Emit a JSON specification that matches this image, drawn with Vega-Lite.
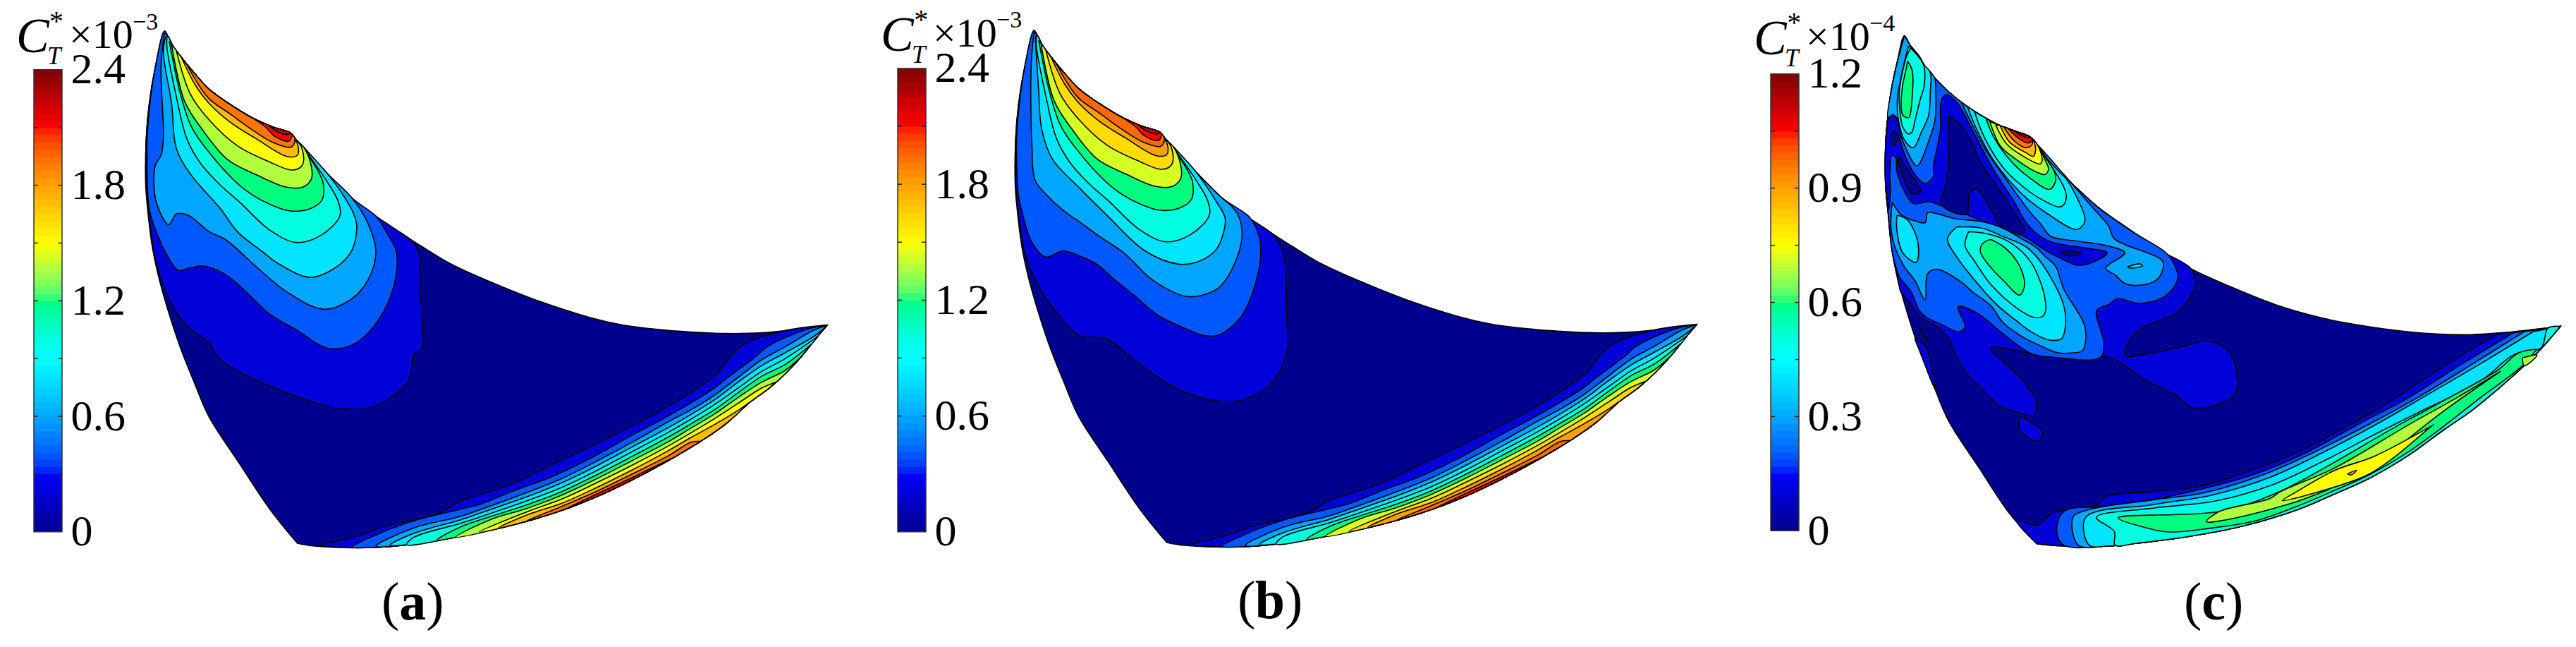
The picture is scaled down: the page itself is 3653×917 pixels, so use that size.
{"$schema":"https://vega.github.io/schema/vega-lite/v6.json","padding":0,"background":"white","spacing":0,"bounds":"flush","config":{"view":{"stroke":null},"text":{"font":"Liberation Serif","align":"left","baseline":"alphabetic","color":"black"}},"resolve":{"scale":{"fill":"independent","x":"independent","y":"independent"}},
"datasets":{
"levelsA":[{"id":"B","level":0},{"id":"L1","level":0.2},{"id":"L2","level":0.4},{"id":"L3","level":0.6},{"id":"L4","level":0.8},{"id":"L5","level":1.0},{"id":"L6","level":1.2},{"id":"L7","level":1.37},{"id":"L8","level":1.5},{"id":"L9","level":1.72},{"id":"L10","level":1.92},{"id":"L11","level":2.1},{"id":"L12","level":2.28},{"id":"T1","level":0.2},{"id":"T2","level":0.4},{"id":"T3","level":0.6},{"id":"T4","level":0.8},{"id":"T5","level":1.0},{"id":"T6","level":1.2},{"id":"T7","level":1.37},{"id":"T8","level":1.5},{"id":"T9","level":1.72},{"id":"T10","level":1.92},{"id":"T11","level":2.1}],
"levelsB":[{"id":"B","level":0},{"id":"L1","level":0.2},{"id":"L2","level":0.4},{"id":"L3","level":0.6},{"id":"L4","level":0.8},{"id":"L5","level":1.0},{"id":"L6","level":1.2},{"id":"L7","level":1.43},{"id":"L8","level":1.62},{"id":"L9","level":1.8},{"id":"L10","level":1.95},{"id":"L11","level":2.1},{"id":"L12","level":2.28},{"id":"T1","level":0.2},{"id":"T2","level":0.4},{"id":"T3","level":0.6},{"id":"T4","level":0.8},{"id":"T5","level":1.0},{"id":"T6","level":1.2},{"id":"T7","level":1.43},{"id":"T8","level":1.62},{"id":"T9","level":1.8},{"id":"T10","level":1.95},{"id":"T11","level":2.1}],
"levelsC":[{"id":"B","level":0},{"id":"A1","level":0.1},{"id":"S1","level":0.1},{"id":"S2","level":0.1},{"id":"S3","level":0.1},{"id":"A2","level":0.2},{"id":"H2","level":0.1},{"id":"D","level":0},{"id":"N1","level":0},{"id":"N2","level":0},{"id":"N3","level":0},{"id":"P3","level":0.3},{"id":"C3","level":0.3},{"id":"R3","level":0.3},{"id":"P4","level":0.4},{"id":"Q4","level":0.4},{"id":"I4","level":0.4},{"id":"C4","level":0.4},{"id":"Z4","level":0.4},{"id":"P5","level":0.5},{"id":"Q5","level":0.5},{"id":"C5","level":0.5},{"id":"P6","level":0.6},{"id":"Q6","level":0.6},{"id":"C6","level":0.6},{"id":"Q7","level":0.685},{"id":"Q8","level":0.75},{"id":"Q9","level":0.86},{"id":"Q10","level":0.96},{"id":"Q11","level":1.05},{"id":"Q12","level":1.14},{"id":"T1","level":0.1},{"id":"T2","level":0.2},{"id":"T3","level":0.3},{"id":"T4","level":0.4},{"id":"T5","level":0.5},{"id":"T6","level":0.6},{"id":"T7","level":0.685},{"id":"T7b","level":0.685},{"id":"T8","level":0.75},{"id":"T9","level":0.86}],
"outline":[{"id":"B","x":100,"y":42},{"id":"B","x":115,"y":65},{"id":"B","x":135,"y":105},{"id":"B","x":180,"y":165},{"id":"B","x":230,"y":225},{"id":"B","x":290,"y":290},{"id":"B","x":365,"y":345},{"id":"B","x":480,"y":415},{"id":"B","x":560,"y":450},{"id":"B","x":635,"y":475},{"id":"B","x":660,"y":505},{"id":"B","x":690,"y":535},{"id":"B","x":790,"y":645},{"id":"B","x":900,"y":755},{"id":"B","x":1000,"y":830},{"id":"B","x":1105,"y":900},{"id":"B","x":1198,"y":960},{"id":"B","x":1318,"y":1032},{"id":"B","x":1478,"y":1105},{"id":"B","x":1678,"y":1185},{"id":"B","x":1910,"y":1260},{"id":"B","x":2040,"y":1290},{"id":"B","x":2190,"y":1310},{"id":"B","x":2340,"y":1322},{"id":"B","x":2490,"y":1328},{"id":"B","x":2640,"y":1325},{"id":"B","x":2790,"y":1310},{"id":"B","x":2920,"y":1292},{"id":"B","x":2920,"y":1292},{"id":"B","x":2870,"y":1350},{"id":"B","x":2810,"y":1425},{"id":"B","x":2740,"y":1500},{"id":"B","x":2670,"y":1562},{"id":"B","x":2590,"y":1620},{"id":"B","x":2490,"y":1710},{"id":"B","x":2390,"y":1780},{"id":"B","x":2240,"y":1870},{"id":"B","x":2090,"y":1950},{"id":"B","x":1960,"y":2012},{"id":"B","x":1790,"y":2080},{"id":"B","x":1590,"y":2140},{"id":"B","x":1360,"y":2190},{"id":"B","x":1160,"y":2223},{"id":"B","x":980,"y":2238},{"id":"B","x":740,"y":2232},{"id":"B","x":665,"y":2220},{"id":"B","x":665,"y":2220},{"id":"B","x":548,"y":2075},{"id":"B","x":418,"y":1880},{"id":"B","x":288,"y":1680},{"id":"B","x":228,"y":1540},{"id":"B","x":168,"y":1390},{"id":"B","x":118,"y":1240},{"id":"B","x":78,"y":1100},{"id":"B","x":48,"y":960},{"id":"B","x":30,"y":820},{"id":"B","x":20,"y":700},{"id":"B","x":22,"y":500},{"id":"B","x":35,"y":350},{"id":"B","x":60,"y":200},{"id":"B","x":100,"y":42}],
"lowA":[{"id":"L1","x":22,"y":700},{"id":"L1","x":40,"y":880},{"id":"L1","x":66,"y":1033},{"id":"L1","x":124,"y":1190},{"id":"L1","x":194,"y":1296},{"id":"L1","x":287,"y":1366},{"id":"L1","x":334,"y":1436},{"id":"L1","x":427,"y":1497},{"id":"L1","x":567,"y":1559},{"id":"L1","x":684,"y":1603},{"id":"L1","x":824,"y":1643},{"id":"L1","x":964,"y":1646},{"id":"L1","x":1058,"y":1603},{"id":"L1","x":1140,"y":1524},{"id":"L1","x":1163,"y":1410},{"id":"L1","x":1193,"y":1401},{"id":"L1","x":1198,"y":1296},{"id":"L1","x":1186,"y":1120},{"id":"L1","x":1186,"y":1006},{"id":"L1","x":1163,"y":945},{"id":"L1","x":1105,"y":900},{"id":"L1","x":1000,"y":830},{"id":"L1","x":900,"y":755},{"id":"L1","x":790,"y":645},{"id":"L1","x":690,"y":535},{"id":"L1","x":660,"y":505},{"id":"L1","x":635,"y":475},{"id":"L1","x":560,"y":450},{"id":"L1","x":480,"y":415},{"id":"L1","x":365,"y":345},{"id":"L1","x":290,"y":290},{"id":"L1","x":230,"y":225},{"id":"L1","x":180,"y":165},{"id":"L1","x":135,"y":105},{"id":"L1","x":115,"y":65},{"id":"L1","x":100,"y":42},{"id":"L1","x":60,"y":200},{"id":"L1","x":35,"y":350},{"id":"L1","x":22,"y":500},{"id":"L1","x":22,"y":700},
{"id":"L2","x":26,"y":600},{"id":"L2","x":35,"y":800},{"id":"L2","x":65,"y":895},{"id":"L2","x":105,"y":985},{"id":"L2","x":159,"y":1059},{"id":"L2","x":206,"y":1050},{"id":"L2","x":264,"y":1041},{"id":"L2","x":357,"y":1076},{"id":"L2","x":451,"y":1155},{"id":"L2","x":544,"y":1243},{"id":"L2","x":661,"y":1313},{"id":"L2","x":801,"y":1392},{"id":"L2","x":918,"y":1366},{"id":"L2","x":1011,"y":1269},{"id":"L2","x":1077,"y":1120},{"id":"L2","x":1086,"y":980},{"id":"L2","x":1045,"y":900},{"id":"L2","x":1000,"y":830},{"id":"L2","x":900,"y":755},{"id":"L2","x":790,"y":645},{"id":"L2","x":690,"y":535},{"id":"L2","x":660,"y":505},{"id":"L2","x":635,"y":475},{"id":"L2","x":560,"y":450},{"id":"L2","x":480,"y":415},{"id":"L2","x":365,"y":345},{"id":"L2","x":290,"y":290},{"id":"L2","x":230,"y":225},{"id":"L2","x":180,"y":165},{"id":"L2","x":135,"y":105},{"id":"L2","x":115,"y":65},{"id":"L2","x":100,"y":42},{"id":"L2","x":60,"y":200},{"id":"L2","x":38,"y":350},{"id":"L2","x":26,"y":500},{"id":"L2","x":26,"y":600},
{"id":"L3","x":100,"y":50},{"id":"L3","x":85,"y":190},{"id":"L3","x":95,"y":500},{"id":"L3","x":85,"y":570},{"id":"L3","x":60,"y":615},{"id":"L3","x":65,"y":770},{"id":"L3","x":118,"y":865},{"id":"L3","x":150,"y":820},{"id":"L3","x":200,"y":825},{"id":"L3","x":290,"y":895},{"id":"L3","x":357,"y":927},{"id":"L3","x":497,"y":1050},{"id":"L3","x":614,"y":1147},{"id":"L3","x":778,"y":1225},{"id":"L3","x":894,"y":1182},{"id":"L3","x":964,"y":1103},{"id":"L3","x":999,"y":980},{"id":"L3","x":964,"y":857},{"id":"L3","x":900,"y":755},{"id":"L3","x":790,"y":645},{"id":"L3","x":690,"y":535},{"id":"L3","x":660,"y":505},{"id":"L3","x":635,"y":475},{"id":"L3","x":560,"y":450},{"id":"L3","x":480,"y":415},{"id":"L3","x":365,"y":345},{"id":"L3","x":290,"y":290},{"id":"L3","x":230,"y":225},{"id":"L3","x":180,"y":165},{"id":"L3","x":135,"y":105},{"id":"L3","x":115,"y":65},{"id":"L3","x":100,"y":50},
{"id":"L4","x":105,"y":65},{"id":"L4","x":95,"y":130},{"id":"L4","x":130,"y":350},{"id":"L4","x":150,"y":540},{"id":"L4","x":210,"y":650},{"id":"L4","x":340,"y":800},{"id":"L4","x":410,"y":895},{"id":"L4","x":510,"y":975},{"id":"L4","x":591,"y":1035},{"id":"L4","x":719,"y":1089},{"id":"L4","x":824,"y":1050},{"id":"L4","x":894,"y":980},{"id":"L4","x":918,"y":875},{"id":"L4","x":905,"y":820},{"id":"L4","x":840,"y":710},{"id":"L4","x":790,"y":645},{"id":"L4","x":690,"y":535},{"id":"L4","x":660,"y":505},{"id":"L4","x":635,"y":475},{"id":"L4","x":560,"y":450},{"id":"L4","x":480,"y":415},{"id":"L4","x":365,"y":345},{"id":"L4","x":290,"y":290},{"id":"L4","x":230,"y":225},{"id":"L4","x":180,"y":165},{"id":"L4","x":135,"y":105},{"id":"L4","x":115,"y":65},{"id":"L4","x":105,"y":65}],
"lowB":[{"id":"L1","x":22,"y":700},{"id":"L1","x":44,"y":897},{"id":"L1","x":68,"y":1013},{"id":"L1","x":133,"y":1155},{"id":"L1","x":206,"y":1254},{"id":"L1","x":294,"y":1340},{"id":"L1","x":411,"y":1354},{"id":"L1","x":511,"y":1431},{"id":"L1","x":659,"y":1539},{"id":"L1","x":773,"y":1592},{"id":"L1","x":876,"y":1617},{"id":"L1","x":978,"y":1615},{"id":"L1","x":1065,"y":1580},{"id":"L1","x":1130,"y":1517},{"id":"L1","x":1175,"y":1413},{"id":"L1","x":1175,"y":1264},{"id":"L1","x":1161,"y":989},{"id":"L1","x":1123,"y":919},{"id":"L1","x":1105,"y":900},{"id":"L1","x":1000,"y":830},{"id":"L1","x":900,"y":755},{"id":"L1","x":790,"y":645},{"id":"L1","x":690,"y":535},{"id":"L1","x":660,"y":505},{"id":"L1","x":635,"y":475},{"id":"L1","x":560,"y":450},{"id":"L1","x":480,"y":415},{"id":"L1","x":365,"y":345},{"id":"L1","x":290,"y":290},{"id":"L1","x":230,"y":225},{"id":"L1","x":180,"y":165},{"id":"L1","x":135,"y":105},{"id":"L1","x":115,"y":65},{"id":"L1","x":100,"y":42},{"id":"L1","x":60,"y":200},{"id":"L1","x":35,"y":350},{"id":"L1","x":22,"y":500},{"id":"L1","x":22,"y":700},
{"id":"L2","x":26,"y":600},{"id":"L2","x":33,"y":738},{"id":"L2","x":47,"y":806},{"id":"L2","x":91,"y":943},{"id":"L2","x":150,"y":1006},{"id":"L2","x":222,"y":980},{"id":"L2","x":294,"y":1001},{"id":"L2","x":367,"y":1036},{"id":"L2","x":439,"y":1099},{"id":"L2","x":525,"y":1168},{"id":"L2","x":628,"y":1254},{"id":"L2","x":731,"y":1304},{"id":"L2","x":817,"y":1338},{"id":"L2","x":883,"y":1338},{"id":"L2","x":978,"y":1264},{"id":"L2","x":1028,"y":1162},{"id":"L2","x":1063,"y":1013},{"id":"L2","x":1058,"y":920},{"id":"L2","x":1020,"y":840},{"id":"L2","x":978,"y":806},{"id":"L2","x":900,"y":755},{"id":"L2","x":790,"y":645},{"id":"L2","x":690,"y":535},{"id":"L2","x":660,"y":505},{"id":"L2","x":635,"y":475},{"id":"L2","x":560,"y":450},{"id":"L2","x":480,"y":415},{"id":"L2","x":365,"y":345},{"id":"L2","x":290,"y":290},{"id":"L2","x":230,"y":225},{"id":"L2","x":180,"y":165},{"id":"L2","x":135,"y":105},{"id":"L2","x":115,"y":65},{"id":"L2","x":100,"y":42},{"id":"L2","x":60,"y":200},{"id":"L2","x":38,"y":350},{"id":"L2","x":26,"y":500},{"id":"L2","x":26,"y":600},
{"id":"L3","x":100,"y":50},{"id":"L3","x":88,"y":190},{"id":"L3","x":91,"y":531},{"id":"L3","x":105,"y":680},{"id":"L3","x":150,"y":738},{"id":"L3","x":222,"y":806},{"id":"L3","x":294,"y":857},{"id":"L3","x":381,"y":920},{"id":"L3","x":483,"y":989},{"id":"L3","x":584,"y":1087},{"id":"L3","x":659,"y":1138},{"id":"L3","x":745,"y":1173},{"id":"L3","x":817,"y":1168},{"id":"L3","x":890,"y":1133},{"id":"L3","x":962,"y":1013},{"id":"L3","x":985,"y":910},{"id":"L3","x":969,"y":829},{"id":"L3","x":934,"y":783},{"id":"L3","x":900,"y":755},{"id":"L3","x":790,"y":645},{"id":"L3","x":690,"y":535},{"id":"L3","x":660,"y":505},{"id":"L3","x":635,"y":475},{"id":"L3","x":560,"y":450},{"id":"L3","x":480,"y":415},{"id":"L3","x":365,"y":345},{"id":"L3","x":290,"y":290},{"id":"L3","x":230,"y":225},{"id":"L3","x":180,"y":165},{"id":"L3","x":135,"y":105},{"id":"L3","x":115,"y":65},{"id":"L3","x":100,"y":50},
{"id":"L4","x":105,"y":68},{"id":"L4","x":119,"y":287},{"id":"L4","x":133,"y":463},{"id":"L4","x":178,"y":589},{"id":"L4","x":294,"y":713},{"id":"L4","x":411,"y":829},{"id":"L4","x":570,"y":978},{"id":"L4","x":715,"y":1036},{"id":"L4","x":803,"y":1024},{"id":"L4","x":876,"y":973},{"id":"L4","x":904,"y":910},{"id":"L4","x":913,"y":840},{"id":"L4","x":876,"y":771},{"id":"L4","x":790,"y":645},{"id":"L4","x":690,"y":535},{"id":"L4","x":660,"y":505},{"id":"L4","x":635,"y":475},{"id":"L4","x":560,"y":450},{"id":"L4","x":480,"y":415},{"id":"L4","x":365,"y":345},{"id":"L4","x":290,"y":290},{"id":"L4","x":230,"y":225},{"id":"L4","x":180,"y":165},{"id":"L4","x":135,"y":105},{"id":"L4","x":115,"y":65},{"id":"L4","x":105,"y":68}],
"upper":[{"id":"L5","x":110,"y":70},{"id":"L5","x":110,"y":110},{"id":"L5","x":150,"y":320},{"id":"L5","x":195,"y":500},{"id":"L5","x":250,"y":600},{"id":"L5","x":330,"y":690},{"id":"L5","x":420,"y":770},{"id":"L5","x":550,"y":890},{"id":"L5","x":661,"y":941},{"id":"L5","x":766,"y":910},{"id":"L5","x":845,"y":830},{"id":"L5","x":840,"y":770},{"id":"L5","x":790,"y":680},{"id":"L5","x":700,"y":550},{"id":"L5","x":690,"y":535},{"id":"L5","x":660,"y":505},{"id":"L5","x":635,"y":475},{"id":"L5","x":560,"y":450},{"id":"L5","x":480,"y":415},{"id":"L5","x":365,"y":345},{"id":"L5","x":290,"y":290},{"id":"L5","x":230,"y":225},{"id":"L5","x":180,"y":165},{"id":"L5","x":135,"y":105},{"id":"L5","x":115,"y":65},{"id":"L5","x":110,"y":70},
{"id":"L6","x":120,"y":85},{"id":"L6","x":165,"y":300},{"id":"L6","x":210,"y":440},{"id":"L6","x":260,"y":520},{"id":"L6","x":440,"y":715},{"id":"L6","x":595,"y":797},{"id":"L6","x":660,"y":808},{"id":"L6","x":725,"y":795},{"id":"L6","x":770,"y":760},{"id":"L6","x":775,"y":690},{"id":"L6","x":755,"y":640},{"id":"L6","x":695,"y":545},{"id":"L6","x":690,"y":535},{"id":"L6","x":660,"y":505},{"id":"L6","x":635,"y":475},{"id":"L6","x":560,"y":450},{"id":"L6","x":480,"y":415},{"id":"L6","x":365,"y":345},{"id":"L6","x":290,"y":290},{"id":"L6","x":230,"y":225},{"id":"L6","x":180,"y":165},{"id":"L6","x":135,"y":105},{"id":"L6","x":120,"y":85},
{"id":"L7","x":130,"y":100},{"id":"L7","x":185,"y":340},{"id":"L7","x":260,"y":460},{"id":"L7","x":370,"y":590},{"id":"L7","x":495,"y":655},{"id":"L7","x":615,"y":705},{"id":"L7","x":690,"y":705},{"id":"L7","x":725,"y":670},{"id":"L7","x":725,"y":620},{"id":"L7","x":695,"y":540},{"id":"L7","x":660,"y":505},{"id":"L7","x":635,"y":475},{"id":"L7","x":560,"y":450},{"id":"L7","x":480,"y":415},{"id":"L7","x":365,"y":345},{"id":"L7","x":290,"y":290},{"id":"L7","x":230,"y":225},{"id":"L7","x":180,"y":165},{"id":"L7","x":135,"y":105},{"id":"L7","x":130,"y":100},
{"id":"L8","x":150,"y":125},{"id":"L8","x":210,"y":310},{"id":"L8","x":290,"y":420},{"id":"L8","x":410,"y":530},{"id":"L8","x":550,"y":600},{"id":"L8","x":640,"y":633},{"id":"L8","x":680,"y":620},{"id":"L8","x":692,"y":590},{"id":"L8","x":680,"y":530},{"id":"L8","x":660,"y":505},{"id":"L8","x":635,"y":475},{"id":"L8","x":560,"y":450},{"id":"L8","x":480,"y":415},{"id":"L8","x":365,"y":345},{"id":"L8","x":290,"y":290},{"id":"L8","x":230,"y":225},{"id":"L8","x":180,"y":165},{"id":"L8","x":150,"y":125},
{"id":"L9","x":170,"y":150},{"id":"L9","x":230,"y":270},{"id":"L9","x":290,"y":350},{"id":"L9","x":380,"y":430},{"id":"L9","x":490,"y":500},{"id":"L9","x":620,"y":575},{"id":"L9","x":665,"y":570},{"id":"L9","x":668,"y":530},{"id":"L9","x":650,"y":495},{"id":"L9","x":635,"y":475},{"id":"L9","x":560,"y":450},{"id":"L9","x":480,"y":415},{"id":"L9","x":365,"y":345},{"id":"L9","x":290,"y":290},{"id":"L9","x":230,"y":225},{"id":"L9","x":180,"y":165},{"id":"L9","x":170,"y":150},
{"id":"L10","x":195,"y":185},{"id":"L10","x":285,"y":325},{"id":"L10","x":380,"y":395},{"id":"L10","x":470,"y":460},{"id":"L10","x":560,"y":515},{"id":"L10","x":640,"y":535},{"id":"L10","x":655,"y":500},{"id":"L10","x":635,"y":475},{"id":"L10","x":560,"y":450},{"id":"L10","x":480,"y":415},{"id":"L10","x":365,"y":345},{"id":"L10","x":290,"y":290},{"id":"L10","x":230,"y":225},{"id":"L10","x":195,"y":185},
{"id":"L11","x":480,"y":415},{"id":"L11","x":530,"y":450},{"id":"L11","x":570,"y":490},{"id":"L11","x":630,"y":510},{"id":"L11","x":642,"y":482},{"id":"L11","x":635,"y":475},{"id":"L11","x":560,"y":450},{"id":"L11","x":480,"y":415},
{"id":"L12","x":545,"y":445},{"id":"L12","x":580,"y":470},{"id":"L12","x":625,"y":482},{"id":"L12","x":635,"y":475},{"id":"L12","x":560,"y":450},{"id":"L12","x":545,"y":445},
{"id":"T1","x":2920,"y":1292},{"id":"T1","x":2730,"y":1318},{"id":"T1","x":2560,"y":1378},{"id":"T1","x":2500,"y":1435},{"id":"T1","x":2460,"y":1490},{"id":"T1","x":2390,"y":1545},{"id":"T1","x":2240,"y":1640},{"id":"T1","x":2090,"y":1720},{"id":"T1","x":1890,"y":1820},{"id":"T1","x":1740,"y":1890},{"id":"T1","x":1560,"y":1975},{"id":"T1","x":1360,"y":2040},{"id":"T1","x":1260,"y":2095},{"id":"T1","x":1030,"y":2150},{"id":"T1","x":950,"y":2180},{"id":"T1","x":860,"y":2205},{"id":"T1","x":760,"y":2228},{"id":"T1","x":980,"y":2238},{"id":"T1","x":1160,"y":2223},{"id":"T1","x":1360,"y":2190},{"id":"T1","x":1590,"y":2140},{"id":"T1","x":1790,"y":2080},{"id":"T1","x":1960,"y":2012},{"id":"T1","x":2090,"y":1950},{"id":"T1","x":2240,"y":1870},{"id":"T1","x":2390,"y":1780},{"id":"T1","x":2490,"y":1710},{"id":"T1","x":2590,"y":1620},{"id":"T1","x":2670,"y":1562},{"id":"T1","x":2740,"y":1500},{"id":"T1","x":2810,"y":1425},{"id":"T1","x":2870,"y":1350},{"id":"T1","x":2920,"y":1292},
{"id":"T2","x":2920,"y":1292},{"id":"T2","x":2840,"y":1308},{"id":"T2","x":2670,"y":1380},{"id":"T2","x":2610,"y":1430},{"id":"T2","x":2490,"y":1520},{"id":"T2","x":2440,"y":1560},{"id":"T2","x":2240,"y":1680},{"id":"T2","x":2090,"y":1760},{"id":"T2","x":1890,"y":1870},{"id":"T2","x":1740,"y":1940},{"id":"T2","x":1590,"y":1995},{"id":"T2","x":1440,"y":2055},{"id":"T2","x":1360,"y":2075},{"id":"T2","x":1160,"y":2125},{"id":"T2","x":1010,"y":2180},{"id":"T2","x":900,"y":2236},{"id":"T2","x":980,"y":2238},{"id":"T2","x":1160,"y":2223},{"id":"T2","x":1360,"y":2190},{"id":"T2","x":1590,"y":2140},{"id":"T2","x":1790,"y":2080},{"id":"T2","x":1960,"y":2012},{"id":"T2","x":2090,"y":1950},{"id":"T2","x":2240,"y":1870},{"id":"T2","x":2390,"y":1780},{"id":"T2","x":2490,"y":1710},{"id":"T2","x":2590,"y":1620},{"id":"T2","x":2670,"y":1562},{"id":"T2","x":2740,"y":1500},{"id":"T2","x":2810,"y":1425},{"id":"T2","x":2870,"y":1350},{"id":"T2","x":2920,"y":1292},
{"id":"T3","x":2920,"y":1292},{"id":"T3","x":2860,"y":1315},{"id":"T3","x":2740,"y":1385},{"id":"T3","x":2640,"y":1440},{"id":"T3","x":2540,"y":1515},{"id":"T3","x":2440,"y":1590},{"id":"T3","x":2340,"y":1652},{"id":"T3","x":2240,"y":1705},{"id":"T3","x":2090,"y":1790},{"id":"T3","x":1940,"y":1870},{"id":"T3","x":1790,"y":1945},{"id":"T3","x":1640,"y":2005},{"id":"T3","x":1490,"y":2060},{"id":"T3","x":1360,"y":2105},{"id":"T3","x":1160,"y":2155},{"id":"T3","x":1000,"y":2232},{"id":"T3","x":1160,"y":2223},{"id":"T3","x":1360,"y":2190},{"id":"T3","x":1590,"y":2140},{"id":"T3","x":1790,"y":2080},{"id":"T3","x":1960,"y":2012},{"id":"T3","x":2090,"y":1950},{"id":"T3","x":2240,"y":1870},{"id":"T3","x":2390,"y":1780},{"id":"T3","x":2490,"y":1710},{"id":"T3","x":2590,"y":1620},{"id":"T3","x":2670,"y":1562},{"id":"T3","x":2740,"y":1500},{"id":"T3","x":2810,"y":1425},{"id":"T3","x":2870,"y":1350},{"id":"T3","x":2920,"y":1292},
{"id":"T4","x":2920,"y":1292},{"id":"T4","x":2870,"y":1335},{"id":"T4","x":2740,"y":1410},{"id":"T4","x":2640,"y":1465},{"id":"T4","x":2540,"y":1535},{"id":"T4","x":2440,"y":1610},{"id":"T4","x":2340,"y":1672},{"id":"T4","x":2240,"y":1730},{"id":"T4","x":2090,"y":1810},{"id":"T4","x":1940,"y":1890},{"id":"T4","x":1790,"y":1963},{"id":"T4","x":1640,"y":2023},{"id":"T4","x":1490,"y":2075},{"id":"T4","x":1360,"y":2120},{"id":"T4","x":1160,"y":2178},{"id":"T4","x":1060,"y":2228},{"id":"T4","x":1160,"y":2223},{"id":"T4","x":1360,"y":2190},{"id":"T4","x":1590,"y":2140},{"id":"T4","x":1790,"y":2080},{"id":"T4","x":1960,"y":2012},{"id":"T4","x":2090,"y":1950},{"id":"T4","x":2240,"y":1870},{"id":"T4","x":2390,"y":1780},{"id":"T4","x":2490,"y":1710},{"id":"T4","x":2590,"y":1620},{"id":"T4","x":2670,"y":1562},{"id":"T4","x":2740,"y":1500},{"id":"T4","x":2810,"y":1425},{"id":"T4","x":2870,"y":1350},{"id":"T4","x":2920,"y":1292},
{"id":"T5","x":2880,"y":1340},{"id":"T5","x":2740,"y":1435},{"id":"T5","x":2640,"y":1490},{"id":"T5","x":2540,"y":1560},{"id":"T5","x":2440,"y":1630},{"id":"T5","x":2340,"y":1692},{"id":"T5","x":2240,"y":1750},{"id":"T5","x":2090,"y":1830},{"id":"T5","x":1940,"y":1910},{"id":"T5","x":1790,"y":1982},{"id":"T5","x":1640,"y":2040},{"id":"T5","x":1490,"y":2092},{"id":"T5","x":1360,"y":2135},{"id":"T5","x":1160,"y":2195},{"id":"T5","x":1130,"y":2226},{"id":"T5","x":1360,"y":2190},{"id":"T5","x":1590,"y":2140},{"id":"T5","x":1790,"y":2080},{"id":"T5","x":1960,"y":2012},{"id":"T5","x":2090,"y":1950},{"id":"T5","x":2240,"y":1870},{"id":"T5","x":2390,"y":1780},{"id":"T5","x":2490,"y":1710},{"id":"T5","x":2590,"y":1620},{"id":"T5","x":2670,"y":1562},{"id":"T5","x":2740,"y":1500},{"id":"T5","x":2810,"y":1425},{"id":"T5","x":2880,"y":1340},
{"id":"T6","x":2850,"y":1375},{"id":"T6","x":2740,"y":1460},{"id":"T6","x":2640,"y":1510},{"id":"T6","x":2540,"y":1580},{"id":"T6","x":2440,"y":1652},{"id":"T6","x":2340,"y":1712},{"id":"T6","x":2240,"y":1770},{"id":"T6","x":2090,"y":1850},{"id":"T6","x":1940,"y":1928},{"id":"T6","x":1790,"y":2000},{"id":"T6","x":1640,"y":2057},{"id":"T6","x":1490,"y":2105},{"id":"T6","x":1360,"y":2150},{"id":"T6","x":1260,"y":2206},{"id":"T6","x":1360,"y":2190},{"id":"T6","x":1590,"y":2140},{"id":"T6","x":1790,"y":2080},{"id":"T6","x":1960,"y":2012},{"id":"T6","x":2090,"y":1950},{"id":"T6","x":2240,"y":1870},{"id":"T6","x":2390,"y":1780},{"id":"T6","x":2490,"y":1710},{"id":"T6","x":2590,"y":1620},{"id":"T6","x":2670,"y":1562},{"id":"T6","x":2740,"y":1500},{"id":"T6","x":2810,"y":1425},{"id":"T6","x":2850,"y":1375},
{"id":"T7","x":2810,"y":1425},{"id":"T7","x":2740,"y":1485},{"id":"T7","x":2640,"y":1535},{"id":"T7","x":2540,"y":1600},{"id":"T7","x":2440,"y":1670},{"id":"T7","x":2340,"y":1730},{"id":"T7","x":2240,"y":1790},{"id":"T7","x":2090,"y":1868},{"id":"T7","x":1940,"y":1945},{"id":"T7","x":1790,"y":2015},{"id":"T7","x":1640,"y":2072},{"id":"T7","x":1490,"y":2118},{"id":"T7","x":1340,"y":2193},{"id":"T7","x":1590,"y":2140},{"id":"T7","x":1790,"y":2080},{"id":"T7","x":1960,"y":2012},{"id":"T7","x":2090,"y":1950},{"id":"T7","x":2240,"y":1870},{"id":"T7","x":2390,"y":1780},{"id":"T7","x":2490,"y":1710},{"id":"T7","x":2590,"y":1620},{"id":"T7","x":2670,"y":1562},{"id":"T7","x":2740,"y":1500},{"id":"T7","x":2810,"y":1425},
{"id":"T8","x":2700,"y":1535},{"id":"T8","x":2640,"y":1560},{"id":"T8","x":2540,"y":1625},{"id":"T8","x":2440,"y":1690},{"id":"T8","x":2340,"y":1750},{"id":"T8","x":2240,"y":1808},{"id":"T8","x":2090,"y":1888},{"id":"T8","x":1940,"y":1962},{"id":"T8","x":1790,"y":2032},{"id":"T8","x":1640,"y":2087},{"id":"T8","x":1440,"y":2172},{"id":"T8","x":1590,"y":2140},{"id":"T8","x":1790,"y":2080},{"id":"T8","x":1960,"y":2012},{"id":"T8","x":2090,"y":1950},{"id":"T8","x":2240,"y":1870},{"id":"T8","x":2390,"y":1780},{"id":"T8","x":2490,"y":1710},{"id":"T8","x":2590,"y":1620},{"id":"T8","x":2670,"y":1562},{"id":"T8","x":2700,"y":1535},
{"id":"T9","x":2590,"y":1620},{"id":"T9","x":2540,"y":1655},{"id":"T9","x":2440,"y":1715},{"id":"T9","x":2340,"y":1770},{"id":"T9","x":2240,"y":1828},{"id":"T9","x":2090,"y":1908},{"id":"T9","x":1940,"y":1982},{"id":"T9","x":1790,"y":2050},{"id":"T9","x":1640,"y":2100},{"id":"T9","x":1520,"y":2155},{"id":"T9","x":1590,"y":2140},{"id":"T9","x":1790,"y":2080},{"id":"T9","x":1960,"y":2012},{"id":"T9","x":2090,"y":1950},{"id":"T9","x":2240,"y":1870},{"id":"T9","x":2390,"y":1780},{"id":"T9","x":2490,"y":1710},{"id":"T9","x":2590,"y":1620},
{"id":"T10","x":2380,"y":1787},{"id":"T10","x":2340,"y":1790},{"id":"T10","x":2240,"y":1850},{"id":"T10","x":2090,"y":1925},{"id":"T10","x":1940,"y":1998},{"id":"T10","x":1790,"y":2063},{"id":"T10","x":1640,"y":2125},{"id":"T10","x":1790,"y":2080},{"id":"T10","x":1960,"y":2012},{"id":"T10","x":2090,"y":1950},{"id":"T10","x":2240,"y":1870},{"id":"T10","x":2380,"y":1787},
{"id":"T11","x":2260,"y":1858},{"id":"T11","x":2090,"y":1940},{"id":"T11","x":1940,"y":2010},{"id":"T11","x":1810,"y":2072},{"id":"T11","x":1960,"y":2012},{"id":"T11","x":2090,"y":1950},{"id":"T11","x":2260,"y":1858}],
"bladeC":[{"id":"B","x":122,"y":62},{"id":"B","x":145,"y":100},{"id":"B","x":185,"y":150},{"id":"B","x":205,"y":185},{"id":"B","x":250,"y":240},{"id":"B","x":310,"y":300},{"id":"B","x":385,"y":360},{"id":"B","x":450,"y":402},{"id":"B","x":530,"y":445},{"id":"B","x":600,"y":470},{"id":"B","x":660,"y":495},{"id":"B","x":700,"y":545},{"id":"B","x":780,"y":635},{"id":"B","x":850,"y":705},{"id":"B","x":950,"y":795},{"id":"B","x":1100,"y":900},{"id":"B","x":1220,"y":980},{"id":"B","x":1340,"y":1052},{"id":"B","x":1500,"y":1125},{"id":"B","x":1700,"y":1205},{"id":"B","x":1891,"y":1260},{"id":"B","x":2029,"y":1288},{"id":"B","x":2260,"y":1320},{"id":"B","x":2490,"y":1333},{"id":"B","x":2720,"y":1320},{"id":"B","x":2912,"y":1298},{"id":"B","x":2912,"y":1298},{"id":"B","x":2828,"y":1395},{"id":"B","x":2720,"y":1500},{"id":"B","x":2628,"y":1580},{"id":"B","x":2536,"y":1655},{"id":"B","x":2413,"y":1740},{"id":"B","x":2260,"y":1850},{"id":"B","x":2106,"y":1940},{"id":"B","x":1952,"y":2010},{"id":"B","x":1799,"y":2075},{"id":"B","x":1568,"y":2145},{"id":"B","x":1338,"y":2190},{"id":"B","x":1108,"y":2220},{"id":"B","x":985,"y":2232},{"id":"B","x":770,"y":2230},{"id":"B","x":685,"y":2222},{"id":"B","x":685,"y":2222},{"id":"B","x":570,"y":2095},{"id":"B","x":440,"y":1900},{"id":"B","x":310,"y":1700},{"id":"B","x":250,"y":1560},{"id":"B","x":190,"y":1410},{"id":"B","x":140,"y":1260},{"id":"B","x":100,"y":1120},{"id":"B","x":70,"y":980},{"id":"B","x":52,"y":810},{"id":"B","x":42,"y":700},{"id":"B","x":42,"y":520},{"id":"B","x":50,"y":420},{"id":"B","x":65,"y":300},{"id":"B","x":90,"y":180},{"id":"B","x":122,"y":62},
{"id":"A1","x":105,"y":1150},{"id":"A1","x":160,"y":1220},{"id":"A1","x":190,"y":1260},{"id":"A1","x":260,"y":1300},{"id":"A1","x":310,"y":1350},{"id":"A1","x":340,"y":1420},{"id":"A1","x":380,"y":1490},{"id":"A1","x":450,"y":1560},{"id":"A1","x":525,"y":1635},{"id":"A1","x":610,"y":1665},{"id":"A1","x":672,"y":1675},{"id":"A1","x":683,"y":1615},{"id":"A1","x":650,"y":1560},{"id":"A1","x":600,"y":1500},{"id":"A1","x":490,"y":1390},{"id":"A1","x":660,"y":1413},{"id":"A1","x":750,"y":1428},{"id":"A1","x":830,"y":1430},{"id":"A1","x":997,"y":1432},{"id":"A1","x":1154,"y":1530},{"id":"A1","x":1277,"y":1590},{"id":"A1","x":1338,"y":1640},{"id":"A1","x":1430,"y":1638},{"id":"A1","x":1530,"y":1580},{"id":"A1","x":1507,"y":1410},{"id":"A1","x":1419,"y":1362},{"id":"A1","x":1277,"y":1390},{"id":"A1","x":1154,"y":1415},{"id":"A1","x":1062,"y":1422},{"id":"A1","x":1077,"y":1360},{"id":"A1","x":1138,"y":1302},{"id":"A1","x":1280,"y":1240},{"id":"A1","x":1345,"y":1160},{"id":"A1","x":1360,"y":1110},{"id":"A1","x":1340,"y":1052},{"id":"A1","x":1220,"y":980},{"id":"A1","x":1100,"y":900},{"id":"A1","x":950,"y":795},{"id":"A1","x":850,"y":705},{"id":"A1","x":780,"y":635},{"id":"A1","x":700,"y":545},{"id":"A1","x":660,"y":495},{"id":"A1","x":600,"y":470},{"id":"A1","x":530,"y":445},{"id":"A1","x":450,"y":402},{"id":"A1","x":385,"y":360},{"id":"A1","x":310,"y":300},{"id":"A1","x":250,"y":240},{"id":"A1","x":205,"y":185},{"id":"A1","x":185,"y":150},{"id":"A1","x":145,"y":100},{"id":"A1","x":122,"y":62},{"id":"A1","x":90,"y":180},{"id":"A1","x":65,"y":300},{"id":"A1","x":50,"y":420},{"id":"A1","x":42,"y":520},{"id":"A1","x":42,"y":700},{"id":"A1","x":52,"y":810},{"id":"A1","x":70,"y":980},{"id":"A1","x":105,"y":1150},
{"id":"S1","x":165,"y":1350},{"id":"S1","x":210,"y":1380},{"id":"S1","x":245,"y":1510},{"id":"S1","x":250,"y":1560},{"id":"S1","x":190,"y":1410},{"id":"S1","x":165,"y":1350},
{"id":"S2","x":185,"y":1307},{"id":"S2","x":205,"y":1320},{"id":"S2","x":218,"y":1358},{"id":"S2","x":185,"y":1307},
{"id":"S3","x":613,"y":1680},{"id":"S3","x":711,"y":1748},{"id":"S3","x":690,"y":1785},{"id":"S3","x":613,"y":1740},{"id":"S3","x":613,"y":1680},
{"id":"A2","x":122,"y":62},{"id":"A2","x":145,"y":100},{"id":"A2","x":185,"y":150},{"id":"A2","x":205,"y":185},{"id":"A2","x":250,"y":240},{"id":"A2","x":310,"y":300},{"id":"A2","x":385,"y":360},{"id":"A2","x":450,"y":402},{"id":"A2","x":530,"y":445},{"id":"A2","x":600,"y":470},{"id":"A2","x":660,"y":495},{"id":"A2","x":700,"y":545},{"id":"A2","x":780,"y":635},{"id":"A2","x":850,"y":705},{"id":"A2","x":950,"y":795},{"id":"A2","x":1100,"y":900},{"id":"A2","x":1235,"y":985},{"id":"A2","x":1270,"y":1035},{"id":"A2","x":1285,"y":1095},{"id":"A2","x":1230,"y":1170},{"id":"A2","x":1120,"y":1200},{"id":"A2","x":1030,"y":1180},{"id":"A2","x":990,"y":1205},{"id":"A2","x":940,"y":1230},{"id":"A2","x":970,"y":1370},{"id":"A2","x":955,"y":1430},{"id":"A2","x":750,"y":1428},{"id":"A2","x":660,"y":1413},{"id":"A2","x":530,"y":1320},{"id":"A2","x":430,"y":1240},{"id":"A2","x":350,"y":1215},{"id":"A2","x":380,"y":1300},{"id":"A2","x":355,"y":1320},{"id":"A2","x":280,"y":1290},{"id":"A2","x":210,"y":1255},{"id":"A2","x":185,"y":1230},{"id":"A2","x":150,"y":1150},{"id":"A2","x":100,"y":1085},{"id":"A2","x":70,"y":980},{"id":"A2","x":52,"y":810},{"id":"A2","x":42,"y":700},{"id":"A2","x":42,"y":520},{"id":"A2","x":50,"y":420},{"id":"A2","x":65,"y":300},{"id":"A2","x":90,"y":180},{"id":"A2","x":122,"y":62},
{"id":"H2","x":50,"y":420},{"id":"H2","x":75,"y":400},{"id":"H2","x":90,"y":420},{"id":"H2","x":100,"y":450},{"id":"H2","x":105,"y":510},{"id":"H2","x":120,"y":560},{"id":"H2","x":165,"y":650},{"id":"H2","x":210,"y":690},{"id":"H2","x":245,"y":660},{"id":"H2","x":245,"y":620},{"id":"H2","x":275,"y":460},{"id":"H2","x":278,"y":340},{"id":"H2","x":300,"y":312},{"id":"H2","x":345,"y":345},{"id":"H2","x":420,"y":480},{"id":"H2","x":500,"y":630},{"id":"H2","x":590,"y":770},{"id":"H2","x":635,"y":850},{"id":"H2","x":680,"y":900},{"id":"H2","x":750,"y":940},{"id":"H2","x":900,"y":965},{"id":"H2","x":985,"y":985},{"id":"H2","x":930,"y":1022},{"id":"H2","x":860,"y":1038},{"id":"H2","x":800,"y":1015},{"id":"H2","x":740,"y":985},{"id":"H2","x":700,"y":960},{"id":"H2","x":630,"y":915},{"id":"H2","x":540,"y":880},{"id":"H2","x":450,"y":850},{"id":"H2","x":385,"y":822},{"id":"H2","x":280,"y":785},{"id":"H2","x":225,"y":768},{"id":"H2","x":160,"y":775},{"id":"H2","x":125,"y":730},{"id":"H2","x":90,"y":640},{"id":"H2","x":85,"y":580},{"id":"H2","x":70,"y":570},{"id":"H2","x":60,"y":640},{"id":"H2","x":62,"y":720},{"id":"H2","x":55,"y":800},{"id":"H2","x":42,"y":700},{"id":"H2","x":42,"y":520},{"id":"H2","x":50,"y":420},
{"id":"D","x":310,"y":402},{"id":"D","x":360,"y":440},{"id":"D","x":410,"y":515},{"id":"D","x":440,"y":590},{"id":"D","x":500,"y":680},{"id":"D","x":600,"y":830},{"id":"D","x":635,"y":890},{"id":"D","x":610,"y":907},{"id":"D","x":530,"y":870},{"id":"D","x":495,"y":810},{"id":"D","x":430,"y":715},{"id":"D","x":400,"y":730},{"id":"D","x":385,"y":820},{"id":"D","x":280,"y":780},{"id":"D","x":295,"y":700},{"id":"D","x":310,"y":600},{"id":"D","x":310,"y":402},
{"id":"N1","x":100,"y":575},{"id":"N1","x":140,"y":640},{"id":"N1","x":190,"y":725},{"id":"N1","x":155,"y":735},{"id":"N1","x":115,"y":660},{"id":"N1","x":95,"y":590},{"id":"N1","x":100,"y":575},
{"id":"N2","x":65,"y":480},{"id":"N2","x":80,"y":470},{"id":"N2","x":95,"y":495},{"id":"N2","x":75,"y":530},{"id":"N2","x":65,"y":480},
{"id":"N3","x":780,"y":980},{"id":"N3","x":820,"y":975},{"id":"N3","x":875,"y":988},{"id":"N3","x":825,"y":998},{"id":"N3","x":780,"y":980},
{"id":"P3","x":122,"y":62},{"id":"P3","x":145,"y":100},{"id":"P3","x":185,"y":150},{"id":"P3","x":205,"y":185},{"id":"P3","x":250,"y":240},{"id":"P3","x":255,"y":300},{"id":"P3","x":252,"y":420},{"id":"P3","x":225,"y":510},{"id":"P3","x":175,"y":615},{"id":"P3","x":130,"y":545},{"id":"P3","x":105,"y":480},{"id":"P3","x":95,"y":430},{"id":"P3","x":85,"y":405},{"id":"P3","x":70,"y":398},{"id":"P3","x":52,"y":410},{"id":"P3","x":65,"y":300},{"id":"P3","x":90,"y":180},{"id":"P3","x":122,"y":62},
{"id":"C3","x":70,"y":770},{"id":"C3","x":110,"y":825},{"id":"C3","x":170,"y":850},{"id":"C3","x":210,"y":857},{"id":"C3","x":220,"y":815},{"id":"C3","x":245,"y":815},{"id":"C3","x":340,"y":840},{"id":"C3","x":450,"y":852},{"id":"C3","x":540,"y":880},{"id":"C3","x":620,"y":925},{"id":"C3","x":680,"y":960},{"id":"C3","x":720,"y":1000},{"id":"C3","x":765,"y":1042},{"id":"C3","x":800,"y":1140},{"id":"C3","x":890,"y":1300},{"id":"C3","x":880,"y":1400},{"id":"C3","x":840,"y":1410},{"id":"C3","x":775,"y":1410},{"id":"C3","x":700,"y":1380},{"id":"C3","x":620,"y":1340},{"id":"C3","x":540,"y":1280},{"id":"C3","x":490,"y":1210},{"id":"C3","x":410,"y":1150},{"id":"C3","x":365,"y":1110},{"id":"C3","x":260,"y":1055},{"id":"C3","x":220,"y":1075},{"id":"C3","x":210,"y":1185},{"id":"C3","x":165,"y":1100},{"id":"C3","x":125,"y":1050},{"id":"C3","x":85,"y":970},{"id":"C3","x":65,"y":880},{"id":"C3","x":70,"y":770},
{"id":"R3","x":365,"y":345},{"id":"R3","x":410,"y":440},{"id":"R3","x":470,"y":550},{"id":"R3","x":560,"y":680},{"id":"R3","x":655,"y":810},{"id":"R3","x":700,"y":860},{"id":"R3","x":745,"y":915},{"id":"R3","x":860,"y":935},{"id":"R3","x":985,"y":955},{"id":"R3","x":1060,"y":985},{"id":"R3","x":978,"y":1050},{"id":"R3","x":1020,"y":1080},{"id":"R3","x":1060,"y":1115},{"id":"R3","x":1130,"y":1122},{"id":"R3","x":1195,"y":1100},{"id":"R3","x":1220,"y":1060},{"id":"R3","x":1220,"y":1020},{"id":"R3","x":1015,"y":925},{"id":"R3","x":990,"y":870},{"id":"R3","x":920,"y":790},{"id":"R3","x":860,"y":720},{"id":"R3","x":790,"y":640},{"id":"R3","x":720,"y":560},{"id":"R3","x":670,"y":510},{"id":"R3","x":600,"y":470},{"id":"R3","x":530,"y":445},{"id":"R3","x":450,"y":402},{"id":"R3","x":385,"y":360},{"id":"R3","x":365,"y":345},
{"id":"P4","x":140,"y":105},{"id":"P4","x":185,"y":150},{"id":"P4","x":205,"y":185},{"id":"P4","x":232,"y":218},{"id":"P4","x":232,"y":300},{"id":"P4","x":225,"y":400},{"id":"P4","x":195,"y":470},{"id":"P4","x":160,"y":538},{"id":"P4","x":125,"y":510},{"id":"P4","x":98,"y":430},{"id":"P4","x":92,"y":330},{"id":"P4","x":105,"y":250},{"id":"P4","x":125,"y":160},{"id":"P4","x":140,"y":105},
{"id":"Q4","x":390,"y":362},{"id":"Q4","x":425,"y":450},{"id":"Q4","x":500,"y":590},{"id":"Q4","x":570,"y":680},{"id":"Q4","x":650,"y":760},{"id":"Q4","x":740,"y":825},{"id":"Q4","x":830,"y":880},{"id":"Q4","x":860,"y":885},{"id":"Q4","x":890,"y":850},{"id":"Q4","x":870,"y":780},{"id":"Q4","x":810,"y":670},{"id":"Q4","x":780,"y":640},{"id":"Q4","x":730,"y":585},{"id":"Q4","x":690,"y":530},{"id":"Q4","x":660,"y":495},{"id":"Q4","x":600,"y":470},{"id":"Q4","x":530,"y":445},{"id":"Q4","x":450,"y":402},{"id":"Q4","x":390,"y":362},
{"id":"I4","x":90,"y":825},{"id":"I4","x":135,"y":845},{"id":"I4","x":180,"y":945},{"id":"I4","x":172,"y":1025},{"id":"I4","x":115,"y":985},{"id":"I4","x":90,"y":890},{"id":"I4","x":90,"y":825},
{"id":"C4","x":345,"y":875},{"id":"C4","x":450,"y":880},{"id":"C4","x":540,"y":915},{"id":"C4","x":640,"y":960},{"id":"C4","x":710,"y":1035},{"id":"C4","x":800,"y":1210},{"id":"C4","x":805,"y":1310},{"id":"C4","x":790,"y":1350},{"id":"C4","x":735,"y":1355},{"id":"C4","x":660,"y":1320},{"id":"C4","x":600,"y":1275},{"id":"C4","x":520,"y":1210},{"id":"C4","x":420,"y":1100},{"id":"C4","x":350,"y":1010},{"id":"C4","x":305,"y":925},{"id":"C4","x":345,"y":875},
{"id":"Z4","x":1070,"y":1045},{"id":"Z4","x":1125,"y":1032},{"id":"Z4","x":1135,"y":1040},{"id":"Z4","x":1085,"y":1050},{"id":"Z4","x":1070,"y":1045},
{"id":"P5","x":150,"y":115},{"id":"P5","x":185,"y":155},{"id":"P5","x":205,"y":190},{"id":"P5","x":205,"y":280},{"id":"P5","x":190,"y":330},{"id":"P5","x":165,"y":430},{"id":"P5","x":155,"y":470},{"id":"P5","x":140,"y":480},{"id":"P5","x":115,"y":450},{"id":"P5","x":105,"y":400},{"id":"P5","x":100,"y":300},{"id":"P5","x":115,"y":210},{"id":"P5","x":135,"y":140},{"id":"P5","x":150,"y":115},
{"id":"Q5","x":420,"y":385},{"id":"Q5","x":460,"y":490},{"id":"Q5","x":540,"y":620},{"id":"Q5","x":610,"y":690},{"id":"Q5","x":700,"y":755},{"id":"Q5","x":780,"y":790},{"id":"Q5","x":800,"y":780},{"id":"Q5","x":810,"y":735},{"id":"Q5","x":775,"y":660},{"id":"Q5","x":735,"y":600},{"id":"Q5","x":700,"y":550},{"id":"Q5","x":660,"y":495},{"id":"Q5","x":600,"y":470},{"id":"Q5","x":530,"y":445},{"id":"Q5","x":450,"y":402},{"id":"Q5","x":420,"y":385},
{"id":"C5","x":395,"y":895},{"id":"C5","x":480,"y":905},{"id":"C5","x":570,"y":940},{"id":"C5","x":660,"y":1025},{"id":"C5","x":720,"y":1180},{"id":"C5","x":715,"y":1250},{"id":"C5","x":675,"y":1260},{"id":"C5","x":600,"y":1220},{"id":"C5","x":490,"y":1120},{"id":"C5","x":420,"y":1020},{"id":"C5","x":380,"y":955},{"id":"C5","x":395,"y":895},
{"id":"P6","x":135,"y":170},{"id":"P6","x":155,"y":210},{"id":"P6","x":155,"y":320},{"id":"P6","x":140,"y":410},{"id":"P6","x":115,"y":400},{"id":"P6","x":108,"y":350},{"id":"P6","x":115,"y":270},{"id":"P6","x":130,"y":200},{"id":"P6","x":135,"y":170},
{"id":"Q6","x":470,"y":415},{"id":"Q6","x":500,"y":490},{"id":"Q6","x":580,"y":600},{"id":"Q6","x":660,"y":670},{"id":"Q6","x":740,"y":715},{"id":"Q6","x":765,"y":680},{"id":"Q6","x":760,"y":640},{"id":"Q6","x":700,"y":550},{"id":"Q6","x":660,"y":495},{"id":"Q6","x":600,"y":470},{"id":"Q6","x":530,"y":445},{"id":"Q6","x":470,"y":415},
{"id":"C6","x":488,"y":928},{"id":"C6","x":545,"y":960},{"id":"C6","x":600,"y":1020},{"id":"C6","x":632,"y":1100},{"id":"C6","x":632,"y":1130},{"id":"C6","x":612,"y":1165},{"id":"C6","x":540,"y":1100},{"id":"C6","x":500,"y":1060},{"id":"C6","x":445,"y":980},{"id":"C6","x":455,"y":945},{"id":"C6","x":488,"y":928},
{"id":"Q7","x":485,"y":425},{"id":"Q7","x":530,"y":530},{"id":"Q7","x":600,"y":590},{"id":"Q7","x":680,"y":640},{"id":"Q7","x":720,"y":652},{"id":"Q7","x":735,"y":630},{"id":"Q7","x":720,"y":590},{"id":"Q7","x":690,"y":530},{"id":"Q7","x":660,"y":495},{"id":"Q7","x":600,"y":470},{"id":"Q7","x":530,"y":445},{"id":"Q7","x":485,"y":425},
{"id":"Q8","x":510,"y":440},{"id":"Q8","x":555,"y":520},{"id":"Q8","x":620,"y":570},{"id":"Q8","x":700,"y":607},{"id":"Q8","x":708,"y":590},{"id":"Q8","x":690,"y":530},{"id":"Q8","x":660,"y":495},{"id":"Q8","x":600,"y":470},{"id":"Q8","x":530,"y":445},{"id":"Q8","x":510,"y":440},
{"id":"Q9","x":530,"y":445},{"id":"Q9","x":570,"y":515},{"id":"Q9","x":640,"y":560},{"id":"Q9","x":670,"y":575},{"id":"Q9","x":680,"y":540},{"id":"Q9","x":660,"y":495},{"id":"Q9","x":600,"y":470},{"id":"Q9","x":530,"y":445},
{"id":"Q10","x":545,"y":450},{"id":"Q10","x":590,"y":510},{"id":"Q10","x":640,"y":538},{"id":"Q10","x":665,"y":525},{"id":"Q10","x":660,"y":495},{"id":"Q10","x":600,"y":470},{"id":"Q10","x":545,"y":450},
{"id":"Q11","x":565,"y":458},{"id":"Q11","x":610,"y":500},{"id":"Q11","x":650,"y":518},{"id":"Q11","x":665,"y":505},{"id":"Q11","x":660,"y":495},{"id":"Q11","x":600,"y":470},{"id":"Q11","x":565,"y":458},
{"id":"Q12","x":590,"y":468},{"id":"Q12","x":625,"y":490},{"id":"Q12","x":650,"y":497},{"id":"Q12","x":660,"y":495},{"id":"Q12","x":600,"y":470},{"id":"Q12","x":590,"y":468},
{"id":"T1","x":2644,"y":1330},{"id":"T1","x":2413,"y":1470},{"id":"T1","x":2183,"y":1620},{"id":"T1","x":2029,"y":1710},{"id":"T1","x":1799,"y":1830},{"id":"T1","x":1568,"y":1920},{"id":"T1","x":1369,"y":1980},{"id":"T1","x":1184,"y":2000},{"id":"T1","x":985,"y":2020},{"id":"T1","x":939,"y":2057},{"id":"T1","x":754,"y":2090},{"id":"T1","x":690,"y":2142},{"id":"T1","x":601,"y":2125},{"id":"T1","x":685,"y":2222},{"id":"T1","x":685,"y":2222},{"id":"T1","x":770,"y":2230},{"id":"T1","x":985,"y":2232},{"id":"T1","x":1108,"y":2220},{"id":"T1","x":1338,"y":2190},{"id":"T1","x":1568,"y":2145},{"id":"T1","x":1799,"y":2075},{"id":"T1","x":1952,"y":2010},{"id":"T1","x":2106,"y":1940},{"id":"T1","x":2260,"y":1850},{"id":"T1","x":2413,"y":1740},{"id":"T1","x":2536,"y":1655},{"id":"T1","x":2628,"y":1580},{"id":"T1","x":2720,"y":1500},{"id":"T1","x":2828,"y":1395},{"id":"T1","x":2912,"y":1298},{"id":"T1","x":2912,"y":1298},{"id":"T1","x":2720,"y":1320},{"id":"T1","x":2644,"y":1330},
{"id":"T2","x":2713,"y":1325},{"id":"T2","x":2490,"y":1460},{"id":"T2","x":2260,"y":1605},{"id":"T2","x":2060,"y":1710},{"id":"T2","x":1830,"y":1835},{"id":"T2","x":1614,"y":1925},{"id":"T2","x":1384,"y":1990},{"id":"T2","x":1200,"y":2030},{"id":"T2","x":960,"y":2063},{"id":"T2","x":800,"y":2085},{"id":"T2","x":770,"y":2170},{"id":"T2","x":800,"y":2228},{"id":"T2","x":985,"y":2232},{"id":"T2","x":1108,"y":2220},{"id":"T2","x":1338,"y":2190},{"id":"T2","x":1568,"y":2145},{"id":"T2","x":1799,"y":2075},{"id":"T2","x":1952,"y":2010},{"id":"T2","x":2106,"y":1940},{"id":"T2","x":2260,"y":1850},{"id":"T2","x":2413,"y":1740},{"id":"T2","x":2536,"y":1655},{"id":"T2","x":2628,"y":1580},{"id":"T2","x":2720,"y":1500},{"id":"T2","x":2828,"y":1395},{"id":"T2","x":2912,"y":1298},{"id":"T2","x":2912,"y":1298},{"id":"T2","x":2713,"y":1325},
{"id":"T3","x":2759,"y":1320},{"id":"T3","x":2551,"y":1450},{"id":"T3","x":2306,"y":1600},{"id":"T3","x":2106,"y":1710},{"id":"T3","x":1860,"y":1835},{"id":"T3","x":1645,"y":1930},{"id":"T3","x":1399,"y":2005},{"id":"T3","x":1184,"y":2035},{"id":"T3","x":900,"y":2078},{"id":"T3","x":839,"y":2110},{"id":"T3","x":862,"y":2228},{"id":"T3","x":985,"y":2232},{"id":"T3","x":1108,"y":2220},{"id":"T3","x":1338,"y":2190},{"id":"T3","x":1568,"y":2145},{"id":"T3","x":1799,"y":2075},{"id":"T3","x":1952,"y":2010},{"id":"T3","x":2106,"y":1940},{"id":"T3","x":2260,"y":1850},{"id":"T3","x":2413,"y":1740},{"id":"T3","x":2536,"y":1655},{"id":"T3","x":2628,"y":1580},{"id":"T3","x":2720,"y":1500},{"id":"T3","x":2828,"y":1395},{"id":"T3","x":2912,"y":1298},{"id":"T3","x":2912,"y":1298},{"id":"T3","x":2759,"y":1320},
{"id":"T4","x":2797,"y":1320},{"id":"T4","x":2567,"y":1460},{"id":"T4","x":2336,"y":1595},{"id":"T4","x":2137,"y":1710},{"id":"T4","x":1891,"y":1840},{"id":"T4","x":1676,"y":1940},{"id":"T4","x":1430,"y":2015},{"id":"T4","x":1184,"y":2055},{"id":"T4","x":893,"y":2110},{"id":"T4","x":908,"y":2228},{"id":"T4","x":985,"y":2232},{"id":"T4","x":1108,"y":2220},{"id":"T4","x":1338,"y":2190},{"id":"T4","x":1568,"y":2145},{"id":"T4","x":1799,"y":2075},{"id":"T4","x":1952,"y":2010},{"id":"T4","x":2106,"y":1940},{"id":"T4","x":2260,"y":1850},{"id":"T4","x":2413,"y":1740},{"id":"T4","x":2536,"y":1655},{"id":"T4","x":2628,"y":1580},{"id":"T4","x":2720,"y":1500},{"id":"T4","x":2828,"y":1395},{"id":"T4","x":2912,"y":1298},{"id":"T4","x":2912,"y":1298},{"id":"T4","x":2797,"y":1320},
{"id":"T5","x":2912,"y":1298},{"id":"T5","x":2860,"y":1305},{"id":"T5","x":2830,"y":1390},{"id":"T5","x":2720,"y":1415},{"id":"T5","x":2567,"y":1535},{"id":"T5","x":2336,"y":1650},{"id":"T5","x":2137,"y":1750},{"id":"T5","x":1906,"y":1870},{"id":"T5","x":1691,"y":1970},{"id":"T5","x":1446,"y":2040},{"id":"T5","x":1184,"y":2070},{"id":"T5","x":939,"y":2110},{"id":"T5","x":1015,"y":2170},{"id":"T5","x":1018,"y":2228},{"id":"T5","x":1108,"y":2220},{"id":"T5","x":1338,"y":2190},{"id":"T5","x":1568,"y":2145},{"id":"T5","x":1799,"y":2075},{"id":"T5","x":1952,"y":2010},{"id":"T5","x":2106,"y":1940},{"id":"T5","x":2260,"y":1850},{"id":"T5","x":2413,"y":1740},{"id":"T5","x":2536,"y":1655},{"id":"T5","x":2628,"y":1580},{"id":"T5","x":2720,"y":1500},{"id":"T5","x":2828,"y":1395},{"id":"T5","x":2912,"y":1298},
{"id":"T6","x":2812,"y":1395},{"id":"T6","x":2736,"y":1410},{"id":"T6","x":2644,"y":1485},{"id":"T6","x":2413,"y":1615},{"id":"T6","x":2229,"y":1715},{"id":"T6","x":1707,"y":2005},{"id":"T6","x":1461,"y":2085},{"id":"T6","x":1031,"y":2112},{"id":"T6","x":1154,"y":2155},{"id":"T6","x":1246,"y":2172},{"id":"T6","x":1430,"y":2155},{"id":"T6","x":1614,"y":2125},{"id":"T6","x":1799,"y":2060},{"id":"T6","x":1952,"y":1995},{"id":"T6","x":2106,"y":1925},{"id":"T6","x":2260,"y":1835},{"id":"T6","x":2413,"y":1725},{"id":"T6","x":2567,"y":1605},{"id":"T6","x":2751,"y":1465},{"id":"T6","x":2812,"y":1395},
{"id":"T7","x":2659,"y":1488},{"id":"T7","x":2474,"y":1600},{"id":"T7","x":2260,"y":1720},{"id":"T7","x":1952,"y":1900},{"id":"T7","x":1722,"y":2000},{"id":"T7","x":1676,"y":2030},{"id":"T7","x":1461,"y":2085},{"id":"T7","x":1407,"y":2128},{"id":"T7","x":1492,"y":2120},{"id":"T7","x":1768,"y":2050},{"id":"T7","x":1952,"y":1980},{"id":"T7","x":2106,"y":1910},{"id":"T7","x":2260,"y":1780},{"id":"T7","x":2413,"y":1660},{"id":"T7","x":2659,"y":1488},
{"id":"T7b","x":2751,"y":1432},{"id":"T7b","x":2813,"y":1420},{"id":"T7b","x":2759,"y":1465},{"id":"T7b","x":2751,"y":1432},
{"id":"T8","x":2375,"y":1715},{"id":"T8","x":2121,"y":1850},{"id":"T8","x":1952,"y":1910},{"id":"T8","x":1783,"y":2005},{"id":"T8","x":1730,"y":2038},{"id":"T8","x":1922,"y":1990},{"id":"T8","x":2091,"y":1930},{"id":"T8","x":2198,"y":1860},{"id":"T8","x":2367,"y":1720},{"id":"T8","x":2375,"y":1715},
{"id":"T9","x":2006,"y":1925},{"id":"T9","x":2045,"y":1910},{"id":"T9","x":2022,"y":1930},{"id":"T9","x":2006,"y":1925}],
"barA":[{"v":0.019},{"v":0.056},{"v":0.094},{"v":0.131},{"v":0.169},{"v":0.206},{"v":0.244},{"v":0.281},{"v":0.319},{"v":0.356},{"v":0.394},{"v":0.431},{"v":0.469},{"v":0.506},{"v":0.544},{"v":0.581},{"v":0.619},{"v":0.656},{"v":0.694},{"v":0.731},{"v":0.769},{"v":0.806},{"v":0.844},{"v":0.881},{"v":0.919},{"v":0.956},{"v":0.994},{"v":1.031},{"v":1.069},{"v":1.106},{"v":1.144},{"v":1.181},{"v":1.219},{"v":1.256},{"v":1.294},{"v":1.331},{"v":1.369},{"v":1.406},{"v":1.444},{"v":1.481},{"v":1.519},{"v":1.556},{"v":1.594},{"v":1.631},{"v":1.669},{"v":1.706},{"v":1.744},{"v":1.781},{"v":1.819},{"v":1.856},{"v":1.894},{"v":1.931},{"v":1.969},{"v":2.006},{"v":2.044},{"v":2.081},{"v":2.119},{"v":2.156},{"v":2.194},{"v":2.231},{"v":2.269},{"v":2.306},{"v":2.344},{"v":2.381}],
"barC":[{"v":0.009},{"v":0.028},{"v":0.047},{"v":0.066},{"v":0.084},{"v":0.103},{"v":0.122},{"v":0.141},{"v":0.159},{"v":0.178},{"v":0.197},{"v":0.216},{"v":0.234},{"v":0.253},{"v":0.272},{"v":0.291},{"v":0.309},{"v":0.328},{"v":0.347},{"v":0.366},{"v":0.384},{"v":0.403},{"v":0.422},{"v":0.441},{"v":0.459},{"v":0.478},{"v":0.497},{"v":0.516},{"v":0.534},{"v":0.553},{"v":0.572},{"v":0.591},{"v":0.609},{"v":0.628},{"v":0.647},{"v":0.666},{"v":0.684},{"v":0.703},{"v":0.722},{"v":0.741},{"v":0.759},{"v":0.778},{"v":0.797},{"v":0.816},{"v":0.834},{"v":0.853},{"v":0.872},{"v":0.891},{"v":0.909},{"v":0.928},{"v":0.947},{"v":0.966},{"v":0.984},{"v":1.003},{"v":1.022},{"v":1.041},{"v":1.059},{"v":1.078},{"v":1.097},{"v":1.116},{"v":1.134},{"v":1.153},{"v":1.172},{"v":1.191}]
},
"hconcat":[
{"width":88,"height":917,"encoding":{"y":{"field":"v","type":"quantitative","scale":{"domain":[-0.58,2.744],"nice":false,"zero":false},"axis":{"orient":"right","values":[0,0.6,1.2,1.8,2.4],"format":".2~f","labelFont":"Liberation Serif","labelFontSize":62,"labelColor":"black","labelPadding":12,"labelAlign":"left","labelOverlap":false,"labelBound":false,"labelFlush":false,"ticks":false,"domain":false,"grid":false,"title":null}}},
"layer":[
{"data":{"name":"barA"},"mark":{"type":"bar","orient":"horizontal","size":11},"encoding":{"x":{"datum":0,"type":"quantitative","scale":{"domain":[-1.2,1],"nice":false,"zero":false},"axis":null},"x2":{"datum":1},"fill":{"field":"v","type":"quantitative","scale":{"domain":[0,0.3,0.9,1.2,1.5,2.1,2.4],"range":["#00008f","#0000ff","#00ffff","#00ff80","#ffff00","#ff0000","#800000"]},"legend":null}}},
{"data":{"values":[{"v":0,"v2":2.4}]},"mark":{"type":"rect","fillOpacity":0,"stroke":"#333333","strokeWidth":1.5},"encoding":{"x":{"datum":0,"type":"quantitative","scale":{"domain":[-1.2,1],"nice":false,"zero":false},"axis":null},"x2":{"datum":1},"y2":{"field":"v2"}}},
{"data":{"values":[{"v":0.3},{"v":0.6},{"v":0.9},{"v":1.2},{"v":1.5},{"v":1.8},{"v":2.1}]},"mark":{"type":"rule","stroke":"#222222","strokeWidth":1.5},"encoding":{"x":{"datum":0,"type":"quantitative","scale":{"domain":[-1.2,1],"nice":false,"zero":false},"axis":null},"x2":{"datum":0.15}}},
{"data":{"values":[{"v":0.3},{"v":0.6},{"v":0.9},{"v":1.2},{"v":1.5},{"v":1.8},{"v":2.1}]},"mark":{"type":"rule","stroke":"#222222","strokeWidth":1.5},"encoding":{"x":{"datum":0.85,"type":"quantitative","scale":{"domain":[-1.2,1],"nice":false,"zero":false},"axis":null},"x2":{"datum":1}}},
{"data":{"values":[{"label":"C","x":-0.625,"v":2.49}]},"mark":{"type":"text","fontStyle":"italic","fontSize":70},"encoding":{"text":{"field":"label"},"x":{"field":"x","type":"quantitative","scale":{"domain":[-1.2,1],"nice":false,"zero":false},"axis":null}}},
{"data":{"values":[{"label":"T","x":0.475,"v":2.429}]},"mark":{"type":"text","fontStyle":"italic","fontSize":35},"encoding":{"text":{"field":"label"},"x":{"field":"x","type":"quantitative","scale":{"domain":[-1.2,1],"nice":false,"zero":false},"axis":null}}},
{"data":{"values":[{"label":"*","x":0.55,"v":2.606}]},"mark":{"type":"text","fontSize":40},"encoding":{"text":{"field":"label"},"x":{"field":"x","type":"quantitative","scale":{"domain":[-1.2,1],"nice":false,"zero":false},"axis":null}}},
{"data":{"values":[{"label":"×10","x":1.25,"v":2.512}]},"mark":{"type":"text","fontSize":58},"encoding":{"text":{"field":"label"},"x":{"field":"x","type":"quantitative","scale":{"domain":[-1.2,1],"nice":false,"zero":false},"axis":null}}},
{"data":{"values":[{"label":"−3","x":3.5,"v":2.61}]},"mark":{"type":"text","fontSize":34},"encoding":{"text":{"field":"label"},"x":{"field":"x","type":"quantitative","scale":{"domain":[-1.2,1],"nice":false,"zero":false},"axis":null}}}
]},
{"width":1185,"height":917,"encoding":{"x":{"field":"x","type":"quantitative","scale":{"domain":[-336,3219],"nice":false,"zero":false},"axis":null},"y":{"field":"y","type":"quantitative","scale":{"domain":[2661,-90],"nice":false,"zero":false},"axis":null},"detail":{"field":"id"},"order":{"value":null},"fill":{"field":"level","type":"quantitative","scale":{"domain":[0,0.3,0.9,1.2,1.5,2.1,2.4],"range":["#00008f","#0000ff","#00ffff","#00ff80","#ffff00","#ff0000","#800000"]},"legend":null}},
"layer":[
{"data":{"name":"outline"},"transform":[{"lookup":"id","from":{"data":{"name":"levelsA"},"key":"id","fields":["level"]}}],"mark":{"type":"line","stroke":"black","strokeWidth":1.6,"interpolate":"catmull-rom"}},
{"data":{"name":"lowA"},"transform":[{"lookup":"id","from":{"data":{"name":"levelsA"},"key":"id","fields":["level"]}}],"mark":{"type":"line","stroke":"black","strokeWidth":1.6,"interpolate":"catmull-rom"}},
{"data":{"name":"upper"},"transform":[{"lookup":"id","from":{"data":{"name":"levelsA"},"key":"id","fields":["level"]}}],"mark":{"type":"line","stroke":"black","strokeWidth":1.6,"interpolate":"catmull-rom"}},
{"data":{"values":[{"label":"(","x":1023,"y":2544},{"label":")","x":1213,"y":2544}]},"mark":{"type":"text","fontSize":76},"encoding":{"text":{"field":"label"},"detail":null,"order":null,"fill":null}},
{"data":{"values":[{"label":"a","x":1099,"y":2544}]},"mark":{"type":"text","fontSize":76,"fontWeight":"bold"},"encoding":{"text":{"field":"label"},"detail":null,"order":null,"fill":null}}
]},
{"width":40,"height":917,"encoding":{"y":{"field":"v","type":"quantitative","scale":{"domain":[-0.578,2.736],"nice":false,"zero":false},"axis":{"orient":"right","values":[0,0.6,1.2,1.8,2.4],"format":".2~f","labelFont":"Liberation Serif","labelFontSize":62,"labelColor":"black","labelPadding":12,"labelAlign":"left","labelOverlap":false,"labelBound":false,"labelFlush":false,"ticks":false,"domain":false,"grid":false,"title":null}}},
"layer":[
{"data":{"name":"barA"},"mark":{"type":"bar","orient":"horizontal","size":11},"encoding":{"x":{"datum":0,"type":"quantitative","scale":{"domain":[0,1],"nice":false,"zero":false},"axis":null},"x2":{"datum":1},"fill":{"field":"v","type":"quantitative","scale":{"domain":[0,0.3,0.9,1.2,1.5,2.1,2.4],"range":["#00008f","#0000ff","#00ffff","#00ff80","#ffff00","#ff0000","#800000"]},"legend":null}}},
{"data":{"values":[{"v":0,"v2":2.4}]},"mark":{"type":"rect","fillOpacity":0,"stroke":"#333333","strokeWidth":1.5},"encoding":{"x":{"datum":0,"type":"quantitative","scale":{"domain":[0,1],"nice":false,"zero":false},"axis":null},"x2":{"datum":1},"y2":{"field":"v2"}}},
{"data":{"values":[{"v":0.3},{"v":0.6},{"v":0.9},{"v":1.2},{"v":1.5},{"v":1.8},{"v":2.1}]},"mark":{"type":"rule","stroke":"#222222","strokeWidth":1.5},"encoding":{"x":{"datum":0,"type":"quantitative","scale":{"domain":[0,1],"nice":false,"zero":false},"axis":null},"x2":{"datum":0.15}}},
{"data":{"values":[{"v":0.3},{"v":0.6},{"v":0.9},{"v":1.2},{"v":1.5},{"v":1.8},{"v":2.1}]},"mark":{"type":"rule","stroke":"#222222","strokeWidth":1.5},"encoding":{"x":{"datum":0.85,"type":"quantitative","scale":{"domain":[0,1],"nice":false,"zero":false},"axis":null},"x2":{"datum":1}}},
{"data":{"values":[{"label":"C","x":-0.6,"v":2.49}]},"mark":{"type":"text","fontStyle":"italic","fontSize":70},"encoding":{"text":{"field":"label"},"x":{"field":"x","type":"quantitative","scale":{"domain":[0,1],"nice":false,"zero":false},"axis":null}}},
{"data":{"values":[{"label":"T","x":0.5,"v":2.429}]},"mark":{"type":"text","fontStyle":"italic","fontSize":35},"encoding":{"text":{"field":"label"},"x":{"field":"x","type":"quantitative","scale":{"domain":[0,1],"nice":false,"zero":false},"axis":null}}},
{"data":{"values":[{"label":"*","x":0.58,"v":2.606}]},"mark":{"type":"text","fontSize":40},"encoding":{"text":{"field":"label"},"x":{"field":"x","type":"quantitative","scale":{"domain":[0,1],"nice":false,"zero":false},"axis":null}}},
{"data":{"values":[{"label":"×10","x":1.25,"v":2.512}]},"mark":{"type":"text","fontSize":58},"encoding":{"text":{"field":"label"},"x":{"field":"x","type":"quantitative","scale":{"domain":[0,1],"nice":false,"zero":false},"axis":null}}},
{"data":{"values":[{"label":"−3","x":3.5,"v":2.61}]},"mark":{"type":"text","fontSize":34},"encoding":{"text":{"field":"label"},"x":{"field":"x","type":"quantitative","scale":{"domain":[0,1],"nice":false,"zero":false},"axis":null}}}
]},
{"width":1198,"height":917,"encoding":{"x":{"field":"x","type":"quantitative","scale":{"domain":[-360,3234],"nice":false,"zero":false},"axis":null},"y":{"field":"y","type":"quantitative","scale":{"domain":[2664,-87],"nice":false,"zero":false},"axis":null},"detail":{"field":"id"},"order":{"value":null},"fill":{"field":"level","type":"quantitative","scale":{"domain":[0,0.3,0.9,1.2,1.5,2.1,2.4],"range":["#00008f","#0000ff","#00ffff","#00ff80","#ffff00","#ff0000","#800000"]},"legend":null}},
"layer":[
{"data":{"name":"outline"},"transform":[{"lookup":"id","from":{"data":{"name":"levelsB"},"key":"id","fields":["level"]}}],"mark":{"type":"line","stroke":"black","strokeWidth":1.6,"interpolate":"catmull-rom"}},
{"data":{"name":"lowB"},"transform":[{"lookup":"id","from":{"data":{"name":"levelsB"},"key":"id","fields":["level"]}}],"mark":{"type":"line","stroke":"black","strokeWidth":1.6,"interpolate":"catmull-rom"}},
{"data":{"name":"upper"},"transform":[{"lookup":"id","from":{"data":{"name":"levelsB"},"key":"id","fields":["level"]}}],"mark":{"type":"line","stroke":"black","strokeWidth":1.6,"interpolate":"catmull-rom"}},
{"data":{"values":[{"label":"(","x":966,"y":2541},{"label":")","x":1167,"y":2541}]},"mark":{"type":"text","fontSize":76},"encoding":{"text":{"field":"label"},"detail":null,"order":null,"fill":null}},
{"data":{"values":[{"label":"b","x":1040,"y":2541}]},"mark":{"type":"text","fontSize":76,"fontWeight":"bold"},"encoding":{"text":{"field":"label"},"detail":null,"order":null,"fill":null}}
]},
{"width":40,"height":917,"encoding":{"y":{"field":"v","type":"quantitative","scale":{"domain":[-0.296,1.385],"nice":false,"zero":false},"axis":{"orient":"right","values":[0,0.3,0.6,0.9,1.2],"format":".2~f","labelFont":"Liberation Serif","labelFontSize":62,"labelColor":"black","labelPadding":12,"labelAlign":"left","labelOverlap":false,"labelBound":false,"labelFlush":false,"ticks":false,"domain":false,"grid":false,"title":null}}},
"layer":[
{"data":{"name":"barC"},"mark":{"type":"bar","orient":"horizontal","size":11},"encoding":{"x":{"datum":0,"type":"quantitative","scale":{"domain":[0,1],"nice":false,"zero":false},"axis":null},"x2":{"datum":1},"fill":{"field":"v","type":"quantitative","scale":{"domain":[0,0.15,0.45,0.6,0.75,1.05,1.2],"range":["#00008f","#0000ff","#00ffff","#00ff80","#ffff00","#ff0000","#800000"]},"legend":null}}},
{"data":{"values":[{"v":0,"v2":1.2}]},"mark":{"type":"rect","fillOpacity":0,"stroke":"#333333","strokeWidth":1.5},"encoding":{"x":{"datum":0,"type":"quantitative","scale":{"domain":[0,1],"nice":false,"zero":false},"axis":null},"x2":{"datum":1},"y2":{"field":"v2"}}},
{"data":{"values":[{"v":0.15},{"v":0.3},{"v":0.45},{"v":0.6},{"v":0.75},{"v":0.9},{"v":1.05}]},"mark":{"type":"rule","stroke":"#222222","strokeWidth":1.5},"encoding":{"x":{"datum":0,"type":"quantitative","scale":{"domain":[0,1],"nice":false,"zero":false},"axis":null},"x2":{"datum":0.15}}},
{"data":{"values":[{"v":0.15},{"v":0.3},{"v":0.45},{"v":0.6},{"v":0.75},{"v":0.9},{"v":1.05}]},"mark":{"type":"rule","stroke":"#222222","strokeWidth":1.5},"encoding":{"x":{"datum":0.85,"type":"quantitative","scale":{"domain":[0,1],"nice":false,"zero":false},"axis":null},"x2":{"datum":1}}},
{"data":{"values":[{"label":"C","x":-0.6,"v":1.251}]},"mark":{"type":"text","fontStyle":"italic","fontSize":70},"encoding":{"text":{"field":"label"},"x":{"field":"x","type":"quantitative","scale":{"domain":[0,1],"nice":false,"zero":false},"axis":null}}},
{"data":{"values":[{"label":"T","x":0.5,"v":1.22}]},"mark":{"type":"text","fontStyle":"italic","fontSize":35},"encoding":{"text":{"field":"label"},"x":{"field":"x","type":"quantitative","scale":{"domain":[0,1],"nice":false,"zero":false},"axis":null}}},
{"data":{"values":[{"label":"*","x":0.58,"v":1.31}]},"mark":{"type":"text","fontSize":40},"encoding":{"text":{"field":"label"},"x":{"field":"x","type":"quantitative","scale":{"domain":[0,1],"nice":false,"zero":false},"axis":null}}},
{"data":{"values":[{"label":"×10","x":1.25,"v":1.262}]},"mark":{"type":"text","fontSize":58},"encoding":{"text":{"field":"label"},"x":{"field":"x","type":"quantitative","scale":{"domain":[0,1],"nice":false,"zero":false},"axis":null}}},
{"data":{"values":[{"label":"−4","x":3.5,"v":1.312}]},"mark":{"type":"text","fontSize":34},"encoding":{"text":{"field":"label"},"x":{"field":"x","type":"quantitative","scale":{"domain":[0,1],"nice":false,"zero":false},"axis":null}}}
]},
{"width":1102,"height":917,"encoding":{"x":{"field":"x","type":"quantitative","scale":{"domain":[-327,2979],"nice":false,"zero":false},"axis":null},"y":{"field":"y","type":"quantitative","scale":{"domain":[2661,-90],"nice":false,"zero":false},"axis":null},"detail":{"field":"id"},"order":{"value":null},"fill":{"field":"level","type":"quantitative","scale":{"domain":[0,0.15,0.45,0.6,0.75,1.05,1.2],"range":["#00008f","#0000ff","#00ffff","#00ff80","#ffff00","#ff0000","#800000"]},"legend":null}},
"layer":[
{"data":{"name":"bladeC"},"transform":[{"lookup":"id","from":{"data":{"name":"levelsC"},"key":"id","fields":["level"]}}],"mark":{"type":"line","stroke":"black","strokeWidth":1.6,"interpolate":"catmull-rom"}},
{"data":{"values":[{"label":"(","x":1311,"y":2544},{"label":")","x":1488,"y":2544}]},"mark":{"type":"text","fontSize":76},"encoding":{"text":{"field":"label"},"detail":null,"order":null,"fill":null}},
{"data":{"values":[{"label":"c","x":1387,"y":2544}]},"mark":{"type":"text","fontSize":76,"fontWeight":"bold"},"encoding":{"text":{"field":"label"},"detail":null,"order":null,"fill":null}}
]}
]}
